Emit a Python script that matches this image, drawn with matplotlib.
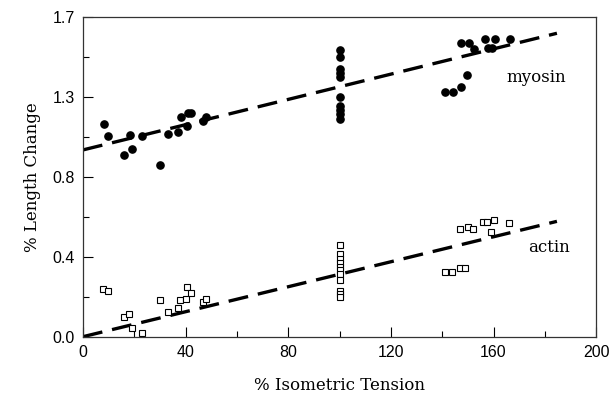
import numpy as np
import matplotlib
matplotlib.use("Agg")
import matplotlib.pyplot as plt
from matplotlib.ticker import FixedLocator, FuncFormatter

# myosin (filled circles)
myo_x = [8.2, 9.7, 16.0, 19.1, 18.3, 23.0, 30.0, 33.1, 37.0, 38.2, 40.9, 42.1, 40.5, 48.0, 46.8,
         100, 100, 100, 100, 100, 100, 100, 100, 100, 100,
         147.3, 150.6, 152.2, 156.5, 160.4, 158.0, 159.3, 166.5, 141.1, 144.4, 147.4, 149.6]
myo_y = [1.132, 1.068, 0.967, 0.999, 1.074, 1.068, 0.914, 1.079, 1.090, 1.170, 1.191, 1.191, 1.122, 1.170, 1.149,
         1.525, 1.488, 1.425, 1.403, 1.382, 1.276, 1.228, 1.207, 1.186, 1.160,
         1.561, 1.561, 1.531, 1.584, 1.584, 1.535, 1.535, 1.584, 1.304, 1.301, 1.330, 1.393]

# actin (open squares)
act_x = [8.0, 9.6, 16.1, 18.1, 19.0, 23.1, 30.0, 33.0, 36.9, 37.8, 40.1, 40.7, 42.0, 46.8, 47.8,
         100, 100, 100, 100, 100, 100, 100, 100, 100, 100, 100,
         147.0, 150.2, 151.9, 155.8, 157.4, 160.2, 159.1, 166.1, 141.1, 144.0, 147.0, 148.9]
act_y = [0.252, 0.242, 0.105, 0.121, 0.049, 0.022, 0.194, 0.134, 0.154, 0.194, 0.202, 0.262, 0.235, 0.186, 0.202,
         0.488, 0.439, 0.412, 0.391, 0.373, 0.355, 0.334, 0.302, 0.245, 0.227, 0.210,
         0.572, 0.585, 0.572, 0.610, 0.610, 0.621, 0.556, 0.604, 0.343, 0.343, 0.364, 0.364]

# fitted lines (end points)
fit_x = [0, 184.7]
myo_fit = [0.994, 1.615]
act_fit = [0.0, 0.614]

x_ticks = [0, 40, 80, 120, 160, 200]
y_ticks = [0, 0.425, 0.85, 1.275, 1.7]
y_labels = ["0.0", "0.4", "0.8", "1.3", "1.7"]

fig = plt.figure(figsize=(6.14, 4.07), dpi=100, facecolor='white')
ax = fig.add_axes([0.135, 0.1727, 0.836, 0.7848])

ax.plot(fit_x, myo_fit, color='black', lw=2.4, dashes=(6, 3))
ax.plot(fit_x, act_fit, color='black', lw=2.4, dashes=(6, 3))
ax.plot(myo_x, myo_y, 'o', color='black', markersize=5.2, ls='none')
ax.plot(act_x, act_y, 's', mfc='white', mec='black', mew=0.8, markersize=5, ls='none')

ax.text(176.6, 1.377, "myosin", family='DejaVu Serif', fontsize=12, ha='center', va='center')
ax.text(181.7, 0.477, "actin", family='DejaVu Serif', fontsize=12, ha='center', va='center')

ax.set_xlim(0, 200)
ax.set_ylim(0, 1.7)
ax.xaxis.set_major_locator(FixedLocator(x_ticks))
ax.xaxis.set_minor_locator(FixedLocator([20, 60, 100, 140, 180]))
ax.yaxis.set_major_locator(FixedLocator(y_ticks))
ax.yaxis.set_minor_locator(FixedLocator([0.2125, 0.6375, 1.0625, 1.4875]))
ax.yaxis.set_major_formatter(FuncFormatter(lambda v, p: y_labels[y_ticks.index(v)] if v in y_ticks else ""))

ax.tick_params(which='both', direction='in', top=False, right=False, labelsize=11.5, pad=6)
ax.tick_params(which='major', length=7, width=0.8)
ax.tick_params(which='minor', length=4, width=0.8)
for lab in ax.get_xticklabels() + ax.get_yticklabels():
    lab.set_family('Liberation Sans')

for s in ax.spines.values():
    s.set_color('#333333')
    s.set_linewidth(0.9)

ax.set_xlabel("% Isometric Tension", family='DejaVu Serif', fontsize=12, labelpad=12)
ax.set_ylabel("% Length Change", family='DejaVu Serif', fontsize=12, labelpad=8)

fig.savefig("out.png", dpi=100, facecolor='white')
